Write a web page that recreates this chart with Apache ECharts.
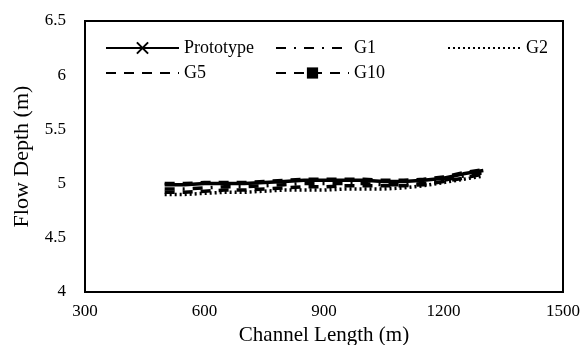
<!DOCTYPE html>
<html><head><meta charset="utf-8">
<script src="https://cdn.jsdelivr.net/npm/echarts@6/dist/echarts.min.js"></script>
<style>html,body{margin:0;padding:0;background:#fff}#c{width:584px;height:345px}</style>
</head><body><div id="c"></div>
<script>
const xVals = [500,550,600,650,700,750,800,850,900,950,1000,1050,1100,1150,1200,1250,1300];
const prototype = [4.99,4.99,5.00,5.00,5.00,5.01,5.02,5.03,5.03,5.03,5.03,5.02,5.02,5.03,5.05,5.09,5.12];
const g1 = [4.95,4.95,4.96,4.97,4.97,4.98,4.99,5.00,5.00,5.00,5.00,4.99,4.99,5.00,5.03,5.07,5.10];
const g2 = [4.90,4.90,4.91,4.92,4.92,4.93,4.94,4.94,4.94,4.95,4.95,4.95,4.96,4.98,5.01,5.04,5.07];
const g5 = [4.92,4.92,4.93,4.94,4.94,4.95,4.96,4.97,4.97,4.98,4.98,4.98,4.98,4.99,5.02,5.05,5.09];
const g10 = [5.00,5.00,5.01,5.01,5.01,5.02,5.03,5.04,5.04,5.04,5.04,5.03,5.03,5.04,5.06,5.10,5.13];
const xTicks = {min:300,max:1500,interval:300};
const yTicks = {min:4,max:6.5,interval:0.5};

const F = '"Liberation Serif","Times New Roman",serif';
const pair = a => xVals.map((x,i)=>[x,a[i]]);
const xPath = 'path://M0,0L10,10M10,0L0,10';
function ser(name, data, type, extra){
  return Object.assign({name, type:'line', data:pair(data), symbol:'none', showSymbol:false,
    lineStyle:{color:'#000', width:3.5, type}, itemStyle:{color:'#000'}, animation:false, z:2}, extra||{});
}
const chart = echarts.init(document.getElementById('c'), null, {renderer:'canvas'});
const legendBase = {orient:'vertical', itemWidth:73, itemHeight:14, itemGap:7, top:34,
  textStyle:{fontFamily:F, fontSize:18, color:'#000'}};
const noSym = n => ({name:n, itemStyle:{opacity:0}});
chart.setOption({
  animation:false,
  textStyle:{fontFamily:F},
  grid:{left:85, right:21, top:21, bottom:53, show:true, borderColor:'#000', borderWidth:2,
    outerBoundsMode:'none', containLabel:false},
  legend:[
    Object.assign({}, legendBase, {left:100, data:['Prototype', noSym('G5')]}),
    Object.assign({}, legendBase, {left:270, data:[noSym('G1'),'G10']}),
    Object.assign({}, legendBase, {left:442, data:[noSym('G2')]})
  ],
  xAxis:{type:'value', min:xTicks.min, max:xTicks.max, interval:xTicks.interval,
    name:'Channel Length (m)', nameLocation:'middle', nameGap:33,
    nameTextStyle:{fontFamily:F, fontSize:21, color:'#000'},
    axisLine:{lineStyle:{color:'#000', width:2}}, axisTick:{show:false}, splitLine:{show:false},
    axisLabel:{fontFamily:F, fontSize:17, color:'#000', margin:11, formatter:v=>String(v)}},
  yAxis:{type:'value', min:yTicks.min, max:yTicks.max, interval:yTicks.interval,
    name:'Flow Depth (m)', nameLocation:'middle', nameGap:52,
    nameTextStyle:{fontFamily:F, fontSize:22, color:'#000'},
    axisLine:{show:true, lineStyle:{color:'#000', width:2}}, axisTick:{show:false}, splitLine:{show:false},
    axisLabel:{fontFamily:F, fontSize:17, color:'#000', margin:19, formatter:v=>String(v)}},
  series:[
    ser('Prototype', prototype, 'solid', {symbol:xPath, symbolSize:8, showSymbol:false,
      itemStyle:{color:'#000', borderColor:'#000', borderWidth:1.3}}),
    ser('G1', g1, [10,8,2,8]),
    ser('G2', g2, [2,3]),
    ser('G5', g5, [10,8]),
    ser('G10', g10, [10,8], {symbol:'rect', symbolSize:8, showSymbol:false})
  ]
});
</script></body></html>
